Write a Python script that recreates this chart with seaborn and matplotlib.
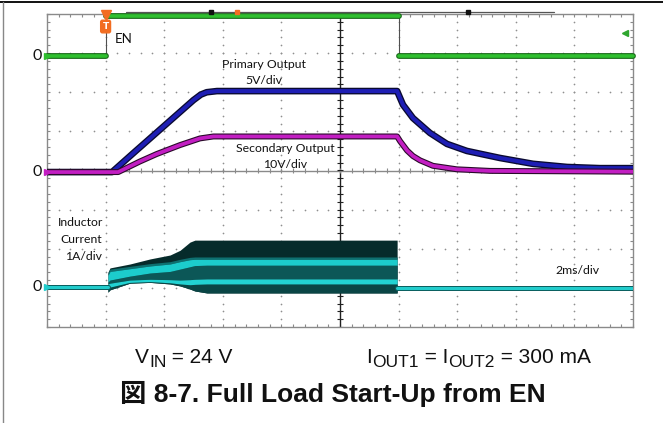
import numpy as np
import pandas as pd
import matplotlib
matplotlib.use("Agg")
import matplotlib.pyplot as plt
from matplotlib.lines import Line2D
import seaborn as sns

sns.set_theme(style="white")
plt.rcParams["font.family"] = ["Lato", "DejaVu Sans"]

# ---------------- data (x: ms, 2 ms/div; y: screen divisions) ----------------
en_time = [-2.0, 0.0, 0.0, 10.0, 10.0, 18.0]
en_level = [2.93, 2.93, 3.95, 3.95, 2.93, 2.93]
en_seg = [0, 0, 1, 1, 2, 2]

pri_time = [-2.0, 0.22, 1.0, 2.0, 3.0, 3.25, 3.45, 3.8, 9.95, 10.15, 10.49,
            11.07, 11.65, 12.33, 13.46, 14.59, 15.75, 16.87, 18.0]
pri_div = [-0.04, -0.04, 0.48, 1.14, 1.80, 1.94, 2.00, 2.03, 2.03, 1.68, 1.34,
           0.96, 0.68, 0.50, 0.32, 0.17, 0.09, 0.06, 0.06]

sec_time = [-2.0, 0.43, 1.17, 1.74, 2.54, 3.22, 3.68, 4.2, 9.95, 10.05, 10.29,
            10.49, 10.73, 11.17, 11.99, 13.12, 18.0]
sec_div = [-0.04, -0.04, 0.23, 0.42, 0.65, 0.82, 0.87, 0.87, 0.87, 0.75, 0.51,
           0.37, 0.26, 0.12, 0.03, -0.01, -0.03]

ind_time_pre = [-2.0, 0.08]
ind_div_pre = [-2.98, -2.98]
ind_time_post = [9.95, 18.0]
ind_div_post = [-3.0, -3.0]

ind_time = [0.08, 0.15, 0.83, 1.52, 2.2, 2.54, 2.88, 3.05, 3.46, 9.95]
ind_top = [-2.60, -2.49, -2.39, -2.26, -2.16, -2.04, -1.83, -1.78, -1.78, -1.78]
ind_bot = [-3.11, -3.05, -2.88, -2.86, -2.90, -2.95, -3.03, -3.08, -3.13, -3.13]
band1_top = [-2.62, -2.52, -2.45, -2.38, -2.33, -2.27, -2.22, -2.21, -2.21, -2.21]
band1_bot = [-2.85, -2.80, -2.70, -2.62, -2.58, -2.52, -2.46, -2.43, -2.42, -2.42]
band2_top = [-2.90, -2.88, -2.80, -2.78, -2.79, -2.80, -2.79, -2.78, -2.77, -2.77]
band2_bot = [-3.00, -2.98, -2.86, -2.84, -2.87, -2.90, -2.92, -2.91, -2.90, -2.90]

zero_marks = [2.93, -0.04, -2.98]

# ---------------- figure ----------------
W, H = 663, 423
fig = plt.figure(figsize=(W / 100, H / 100), dpi=100)
L, T, R, B = 47, 14, 633, 327
ax = fig.add_axes([L / W, 1 - B / H, (R - L) / W, (B - T) / H])
ax.set_xlim(-2, 18)
ax.set_ylim(-4, 4)
ax.set_facecolor("white")
for s in ax.spines.values():
    s.set_color("#8a8a8a")
    s.set_linewidth(1.0)
ax.set_xticks([])
ax.set_yticks([])
ax.set_xticks(np.arange(-2, 18.01, 0.4), minor=True)
ax.set_yticks(np.arange(-4, 4.01, 0.2), minor=True)
ax.tick_params(which="minor", direction="in", length=2.5, width=0.8,
               color="#8a8a8a", top=True, right=True, bottom=True, left=True,
               labelbottom=False, labelleft=False)

# grid dots
gy = np.arange(-4, 4.01, 0.2)
gx = np.arange(-2, 18.01, 0.4)
for xv in [0, 2, 4, 6, 10, 12, 14, 16]:
    ax.scatter(np.full_like(gy, xv), gy, s=1.5, color="#8f8f8f", lw=0, zorder=1)
for yv in [-3, -2, -1, 1, 2, 3]:
    ax.scatter(gx, np.full_like(gx, yv), s=1.5, color="#8f8f8f", lw=0, zorder=1)

# center cross with ticks
ax.axvline(8, color="#202020", lw=1.0, zorder=1.5)
ax.axhline(0, color="#8a8a8a", lw=1.0, zorder=1.5)
ax.vlines(gx, -0.065, 0.065, color="#8a8a8a", lw=0.8, zorder=1.5)
ax.hlines(gy, 8 - 0.09, 8 + 0.09, color="#202020", lw=0.8, zorder=1.5)

# ---------------- inductor current ----------------
ax.fill_between(ind_time, ind_bot, ind_top, color="#062b2b", lw=0, zorder=2)
ax.fill_between(ind_time, band2_bot, ind_bot, color="#0a4545", lw=0, zorder=2.1)
ax.fill_between(ind_time, band2_top, band1_bot, color="#0c5757", lw=0, zorder=2.1)
ax.fill_between(ind_time, band1_top, [t - 0.06 for t in band1_top],
                color="#0e7070", lw=0, zorder=2.1)
ax.fill_between(ind_time, band1_bot, [t - 0.06 for t in band1_top],
                color="#1ccccc", lw=0, zorder=2.2)
ax.fill_between(ind_time, band2_bot, band2_top, color="#22d2d2", lw=0, zorder=2.2)

for tt, vv in [(ind_time_pre, ind_div_pre), (ind_time_post, ind_div_post)]:
    df = pd.DataFrame({"t": tt, "v": vv})
    sns.lineplot(data=df, x="t", y="v", ax=ax, color="#0b5f5f", lw=3.6,
                 estimator=None, sort=False, zorder=3)
    sns.lineplot(data=df, x="t", y="v", ax=ax, color="#22cccc", lw=2.2,
                 estimator=None, sort=False, zorder=3.1)

# ---------------- outputs ----------------
dfp = pd.DataFrame({"t": pri_time, "v": pri_div})
sns.lineplot(data=dfp, x="t", y="v", ax=ax, color="#0a0a30", lw=4.8,
             estimator=None, sort=False, zorder=4)
sns.lineplot(data=dfp, x="t", y="v", ax=ax, color="#1e1eb4", lw=2.9,
             estimator=None, sort=False, zorder=4.1)
dfs = pd.DataFrame({"t": sec_time, "v": sec_div})
sns.lineplot(data=dfs, x="t", y="v", ax=ax, color="#2a0a2a", lw=4.3,
             estimator=None, sort=False, zorder=4.2)
sns.lineplot(data=dfs, x="t", y="v", ax=ax, color="#c21ec2", lw=2.7,
             estimator=None, sort=False, zorder=4.3)

# ---------------- EN ----------------
dfe = pd.DataFrame({"t": en_time, "v": en_level, "seg": en_seg})
ax.plot(en_time, en_level, color="#505050", lw=0.8, zorder=4.4, clip_on=False)
sns.lineplot(data=dfe, x="t", y="v", units="seg", ax=ax, color="#1a6a1a",
             lw=4.2, estimator=None, sort=False, zorder=4.5, clip_on=False)
sns.lineplot(data=dfe, x="t", y="v", units="seg", ax=ax, color="#2fbf2f",
             lw=2.6, estimator=None, sort=False, zorder=4.6, clip_on=False)

ax.set_xlabel("")
ax.set_ylabel("")

# ---------------- scope markers ----------------
ax.plot([0.70, 15.3], [4.04, 4.04], color="#555555", lw=0.9, clip_on=False, zorder=5)
ax.plot([3.6, 12.37], [4.04, 4.04], ls="none", marker="s", ms=2.5, color="#111111",
        clip_on=False, zorder=5)
ax.plot([4.48], [4.06], ls="none", marker="s", ms=3, color="#f26d21",
        clip_on=False, zorder=5)
ax.plot([0], [3.98], ls="none", marker="v", ms=7, color="#f26d21",
        clip_on=False, zorder=6)
ax.text(0, 3.68, "T", color="white", fontsize=6.5, fontweight="bold",
        ha="center", va="center", zorder=6, family=["DejaVu Sans"],
        bbox=dict(boxstyle="round,pad=0.2", fc="#f26d21", ec="#f26d21"))
ax.plot([17.73], [3.52], ls="none", marker="<", ms=5, color="#2fa62f",
        clip_on=False, zorder=6)
for yv, c in zip(zero_marks, ["#2fbf2f", "#c21ec2", "#22cccc"]):
    ax.plot([-2.0], [yv], ls="none", marker=">", ms=4, color=c,
            clip_on=False, zorder=6)

# ---------------- texts ----------------
def ptext(x, y, s, **kw):
    return fig.text(x / W, 1 - y / H, s, **kw)

for yy in [56, 172, 287]:
    ptext(37, yy, "0", fontsize=11.5, ha="center", va="center", color="#111111")

ptext(124, 39, "EN", fontsize=9.5, ha="center", va="center", color="#111111")
ptext(264, 64, "Primary Output", fontsize=8.8, ha="center", va="center", color="#111111")
ptext(264, 80, "5V/div", fontsize=8.8, ha="center", va="center", color="#111111")
ptext(285.5, 149, "Secondary Output", fontsize=8.8, ha="center", va="center", color="#111111")
ptext(285.5, 164, "10V/div", fontsize=8.8, ha="center", va="center", color="#111111")
ptext(81, 222, "Inductor", fontsize=8.8, ha="center", va="center", color="#111111")
ptext(81, 239, "Current", fontsize=8.8, ha="center", va="center", color="#111111")
ptext(84, 256, "1A/div", fontsize=8.8, ha="center", va="center", color="#111111")
ptext(577, 270, "2ms/div", fontsize=8.8, ha="center", va="center", color="#111111")

cap = ["Liberation Sans", "DejaVu Sans"]
renderer = fig.canvas.get_renderer()


def rich(x_center, y_base, pieces):
    """pieces: list of (text, fontsize, dy_px); centred on x_center"""
    arts = []
    total = 0.0
    for s, fs, dy in pieces:
        t = ptext(0, y_base + dy, s, fontsize=fs, ha="left", va="baseline",
                  family=cap, color="#111111")
        w = t.get_window_extent(renderer).width
        arts.append((t, w, dy))
        total += w
    x = x_center - total / 2
    for t, w, dy in arts:
        t.set_x(x / W)
        x += w


rich(184, 363, [("V", 15, 0), ("IN", 12.5, 4), (" = 24 V", 15, 0)])
rich(478.5, 363, [("I", 15, 0), ("OUT1", 12.5, 4), (" = I", 15, 0),
                  ("OUT2", 12.5, 4), (" = 300 mA", 15, 0)])
ptext(333, 394, "図 8-7. Full Load Start-Up from EN", fontsize=19,
      fontweight="bold", ha="center", va="center",
      family=["Liberation Sans", "Noto Sans CJK JP"], color="#111111")

# outer frame
fig.add_artist(Line2D([0, 1], [1 - 2.5 / H, 1 - 2.5 / H], color="#111111", lw=1.4))
fig.add_artist(Line2D([2.5 / W, 2.5 / W], [0, 1 - 2.5 / H], color="#888888", lw=1.0))

fig.savefig("out.png", dpi=100)
